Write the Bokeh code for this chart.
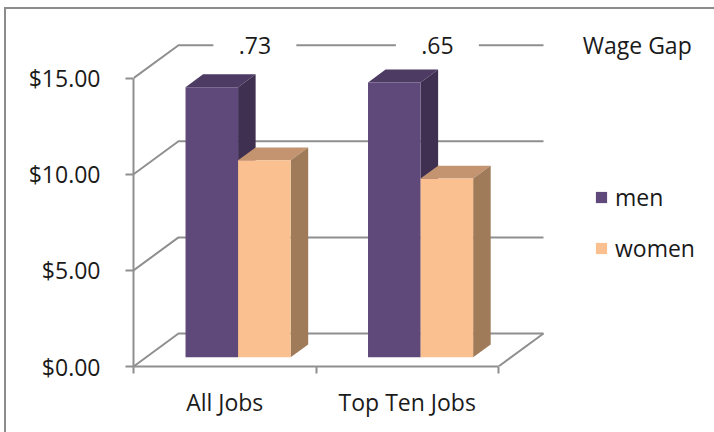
from bokeh.plotting import figure
from bokeh.models import (Range1d, FixedTicker, NumeralTickFormatter, Legend,
                          LegendItem)
from bokeh.core.properties import value
from bokeh.embed import file_html
from bokeh.resources import INLINE

# ---------------- data ----------------
categories = ["All Jobs", "Top Ten Jobs"]
men = [14.05, 14.30]
women = [10.25, 9.30]
gap_labels = [".73", ".65"]
gap_title = "Wage Gap"
y_ticks = [0, 5, 10, 15]
series_names = ["men", "women"]

# ---------------- layout / style ----------------
FONT = "Open Sans"
FS = "23px"
TXT = "#1a1a1a"
GRID = "#8f8f8f"
PX_X = 182.5          # pixels per category unit
PX_Y = 19.22          # pixels per dollar
FRAME_LEFT = 133
FRAME_BOTTOM = 366
DX = 45 / PX_X        # full depth of the 3-D box (x units)
DY = 33 / PX_Y        # full depth of the 3-D box (y units)
Z0, Z1 = 0.28, 0.67   # bar front / back depth fractions
BAR_W = 0.288
GROUP_LEFT = 0.216
FRONT = {"men": "#5F497A", "women": "#FAC090"}
TOP = {"men": "#4D3B63", "women": "#C49470"}
SIDE = {"men": "#3F3052", "women": "#A07B5A"}
BORDER = "#8c8c8c"

n = len(categories)
p = figure(width=714, height=432,
           x_range=Range1d(0, (714 - FRAME_LEFT) / PX_X),
           y_range=Range1d(0, FRAME_BOTTOM / PX_Y),
           output_backend="svg", toolbar_location=None,
           min_border_left=FRAME_LEFT, min_border_right=0,
           min_border_top=0, min_border_bottom=432 - FRAME_BOTTOM)
p.outline_line_color = None
p.xgrid.visible = False
p.ygrid.visible = False
# transparent canvas so the chart-area border (CSS background) shows through
p.background_fill_color = None
p.border_fill_color = None
p.styles = {
    "background-color": "white",
    "background-image": f"linear-gradient({BORDER}, {BORDER}), "
                        f"linear-gradient({BORDER}, {BORDER})",
    "background-size": "2px 100%, 100% 2px",
    "background-position": "4px 7px, 4px 7px",
    "background-repeat": "no-repeat",
}

# ---------------- back wall / side wall / floor ----------------
wall_xs, wall_ys = [], []
for v in y_ticks:
    wall_xs.append([0, DX, n + DX])
    wall_ys.append([v, v + DY, v + DY])
# floor right edge
wall_xs.append([n, n + DX])
wall_ys.append([0, DY])
p.multi_line(wall_xs, wall_ys, line_color=GRID, line_width=2)

# gaps in the top gridline for the wage-gap labels
label_x = [i + 0.5 + 0.165 for i in range(n)]
top_y = max(y_ticks) + DY
p.rect(x=label_x, y=[top_y] * n, width=83, height=26,
       width_units="screen", height_units="screen",
       fill_color="white", line_color=None)
p.text(x=label_x, y=[top_y] * n, text=gap_labels,
       text_align="center", text_baseline="middle",
       text_font=value(FONT), text_font_size=FS, text_color=TXT)
p.text(x=[n + DX + 0.215], y=[top_y], text=[gap_title],
       text_align="left", text_baseline="middle",
       text_font=value(FONT), text_font_size=FS, text_color=TXT)

# ---------------- 3-D bars ----------------
ox0, oy0 = Z0 * DX, Z0 * DY
ox1, oy1 = Z1 * DX, Z1 * DY
legend_items = []
for s, (name, vals) in enumerate(zip(series_names, [men, women])):
    fx, fy, tx, ty, sx, sy = [], [], [], [], [], []
    for i, v in enumerate(vals):
        xl = i + GROUP_LEFT + s * BAR_W
        xr = xl + BAR_W
        fx.append([xl + ox0, xr + ox0, xr + ox0, xl + ox0])
        fy.append([oy0, oy0, v + oy0, v + oy0])
        tx.append([xl + ox0, xr + ox0, xr + ox1, xl + ox1])
        ty.append([v + oy0, v + oy0, v + oy1, v + oy1])
        sx.append([xr + ox0, xr + ox1, xr + ox1, xr + ox0])
        sy.append([oy0, oy1, v + oy1, v + oy0])
    p.patches(tx, ty, fill_color=TOP[name], line_color=None)
    p.patches(sx, sy, fill_color=SIDE[name], line_color=None)
    r = p.patches(fx, fy, fill_color=FRONT[name], line_color=None)
    legend_items.append(LegendItem(label=name, renderers=[r]))

# ---------------- axes ----------------
ya = p.yaxis[0]
ya.ticker = FixedTicker(ticks=y_ticks)
ya.formatter = NumeralTickFormatter(format="$0.00")
ya.bounds = (min(y_ticks), max(y_ticks))
ya.axis_line_color = GRID
ya.axis_line_width = 2
ya.major_tick_line_color = GRID
ya.major_tick_line_width = 2
ya.major_tick_out = 8
ya.major_tick_in = 0
ya.minor_tick_line_color = None
ya.major_label_standoff = 25
ya.major_label_text_font = FONT
ya.major_label_text_font_size = FS
ya.major_label_text_color = TXT

xa = p.xaxis[0]
centers = [i + 0.5 for i in range(n)]
xa.ticker = FixedTicker(ticks=centers, minor_ticks=list(range(n + 1)))
xa.major_label_overrides = {c: lab for c, lab in zip(centers, categories)}
xa.bounds = (0, n)
xa.axis_line_color = GRID
xa.axis_line_width = 2
xa.major_tick_out = 0
xa.major_tick_in = 0
xa.major_tick_line_color = None
xa.minor_tick_line_color = GRID
xa.minor_tick_line_width = 2
xa.minor_tick_out = 7
xa.minor_tick_in = 0
xa.major_label_standoff = 12
xa.major_label_text_font = FONT
xa.major_label_text_font_size = FS
xa.major_label_text_color = TXT

# ---------------- legend ----------------
legend = Legend(items=legend_items, location=(461, 102),
                glyph_width=14, glyph_height=14, label_height=26,
                spacing=19, label_standoff=7, padding=0, margin=0,
                border_line_color=None, background_fill_alpha=0,
                label_text_font=FONT, label_text_font_size=FS,
                label_text_color=TXT)
p.add_layout(legend)

open("out.html", "w").write(file_html(p, INLINE))
